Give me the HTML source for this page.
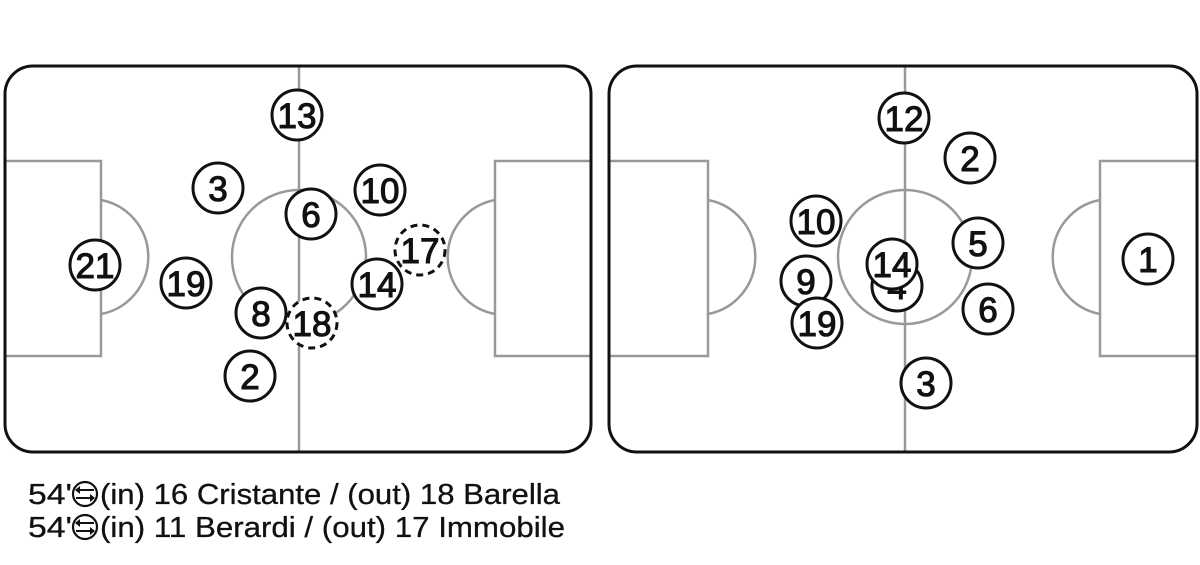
<!DOCTYPE html>
<html><head><meta charset="utf-8"><style>
html,body{margin:0;padding:0;background:#fff;width:1200px;height:565px;overflow:hidden}
svg{display:block}
.t{font-family:"Liberation Sans",sans-serif;font-size:35px;text-anchor:middle;fill:#111;stroke:#111;stroke-width:1.1}
.p{fill:#fff;stroke:#111;stroke-width:3}
.d{fill:#fff;stroke:#111;stroke-width:3;stroke-dasharray:7 5}
.l{fill:none;stroke:#999;stroke-width:2.5}
.cap{font-family:"Liberation Sans",sans-serif;font-size:29px;fill:#111;stroke:#111;stroke-width:0.3}
</style></head><body>
<svg width="1200" height="565" viewBox="0 0 1200 565">
<!-- Left pitch -->
<line class="l" x1="299" y1="66" x2="299" y2="452"/>
<circle class="l" cx="299" cy="257" r="67"/>
<rect class="l" x="5" y="161" width="96" height="195"/>
<path class="l" d="M101 200 A58 58 0 0 1 101 314"/>
<rect class="l" x="495" y="161" width="96" height="195"/>
<path class="l" d="M495 200 A58 58 0 0 0 495 314"/>
<rect x="5" y="66" width="586" height="386" rx="28" fill="none" stroke="#111" stroke-width="3"/>
<g>
<circle class="p" cx="297" cy="115" r="25"/><text class="t" x="297" y="128">13</text>
<circle class="p" cx="218" cy="188" r="25"/><text class="t" x="218" y="201">3</text>
<circle class="p" cx="380" cy="190" r="25"/><text class="t" x="380" y="203">10</text>
<circle class="p" cx="311" cy="214" r="25"/><text class="t" x="311" y="227">6</text>
<circle class="p" cx="95" cy="265" r="25"/><text class="t" x="95" y="278">21</text>
<circle class="p" cx="186" cy="283" r="25"/><text class="t" x="186" y="296">19</text>
<circle class="d" cx="420" cy="250" r="25"/><text class="t" x="420" y="263">17</text>
<circle class="p" cx="377" cy="284" r="25"/><text class="t" x="377" y="297">14</text>
<circle class="p" cx="261" cy="313" r="25"/><text class="t" x="261" y="326">8</text>
<circle class="d" cx="312" cy="323" r="25"/><text class="t" x="312" y="336">18</text>
<circle class="p" cx="250" cy="376" r="25"/><text class="t" x="250" y="389">2</text>
</g>
<!-- Right pitch -->
<line class="l" x1="905" y1="66" x2="905" y2="452"/>
<circle class="l" cx="905" cy="257" r="67"/>
<rect class="l" x="609" y="161" width="99" height="195"/>
<path class="l" d="M708 200 A58 58 0 0 1 708 314"/>
<rect class="l" x="1100" y="161" width="97" height="195"/>
<path class="l" d="M1100 200 A58 58 0 0 0 1100 314"/>
<rect x="609" y="66" width="588" height="386" rx="28" fill="none" stroke="#111" stroke-width="3"/>
<g>
<circle class="p" cx="904" cy="118" r="25"/><text class="t" x="904" y="131">12</text>
<circle class="p" cx="970" cy="158" r="25"/><text class="t" x="970" y="171">2</text>
<circle class="p" cx="816" cy="221" r="25"/><text class="t" x="816" y="234">10</text>
<circle class="p" cx="978" cy="243" r="25"/><text class="t" x="978" y="256">5</text>
<circle class="p" cx="1148" cy="259" r="25"/><text class="t" x="1148" y="272">1</text>
<circle class="p" cx="897" cy="286" r="25"/><text class="t" x="897" y="299">4</text>
<circle class="p" cx="892" cy="264" r="25"/><text class="t" x="892" y="277">14</text>
<circle class="p" cx="806" cy="281" r="25"/><text class="t" x="806" y="294">9</text>
<circle class="p" cx="817" cy="323" r="25"/><text class="t" x="817" y="336">19</text>
<circle class="p" cx="988" cy="309" r="25"/><text class="t" x="988" y="322">6</text>
<circle class="p" cx="926" cy="383" r="25"/><text class="t" x="926" y="396">3</text>
</g>
<!-- captions -->
<g>
<text class="cap" x="28" y="504" textLength="44" lengthAdjust="spacingAndGlyphs">54'</text>
<circle cx="85" cy="494" r="12" fill="none" stroke="#111" stroke-width="2.2"/>
<path d="M76 490 H94 M76 498 H94" stroke="#111" stroke-width="2" fill="none"/>
<path d="M75 490 l5 -4 v8 z M95 498 l-5 -4 v8 z" fill="#111"/>
<text class="cap" x="100" y="504" textLength="460" lengthAdjust="spacingAndGlyphs">(in) 16 Cristante / (out) 18 Barella</text>
<text class="cap" x="28" y="537" textLength="44" lengthAdjust="spacingAndGlyphs">54'</text>
<circle cx="85" cy="527" r="12" fill="none" stroke="#111" stroke-width="2.2"/>
<path d="M76 523 H94 M76 531 H94" stroke="#111" stroke-width="2" fill="none"/>
<path d="M75 523 l5 -4 v8 z M95 531 l-5 -4 v8 z" fill="#111"/>
<text class="cap" x="100" y="537" textLength="465" lengthAdjust="spacingAndGlyphs">(in) 11 Berardi / (out) 17 Immobile</text>
</g>
</svg>
</body></html>
